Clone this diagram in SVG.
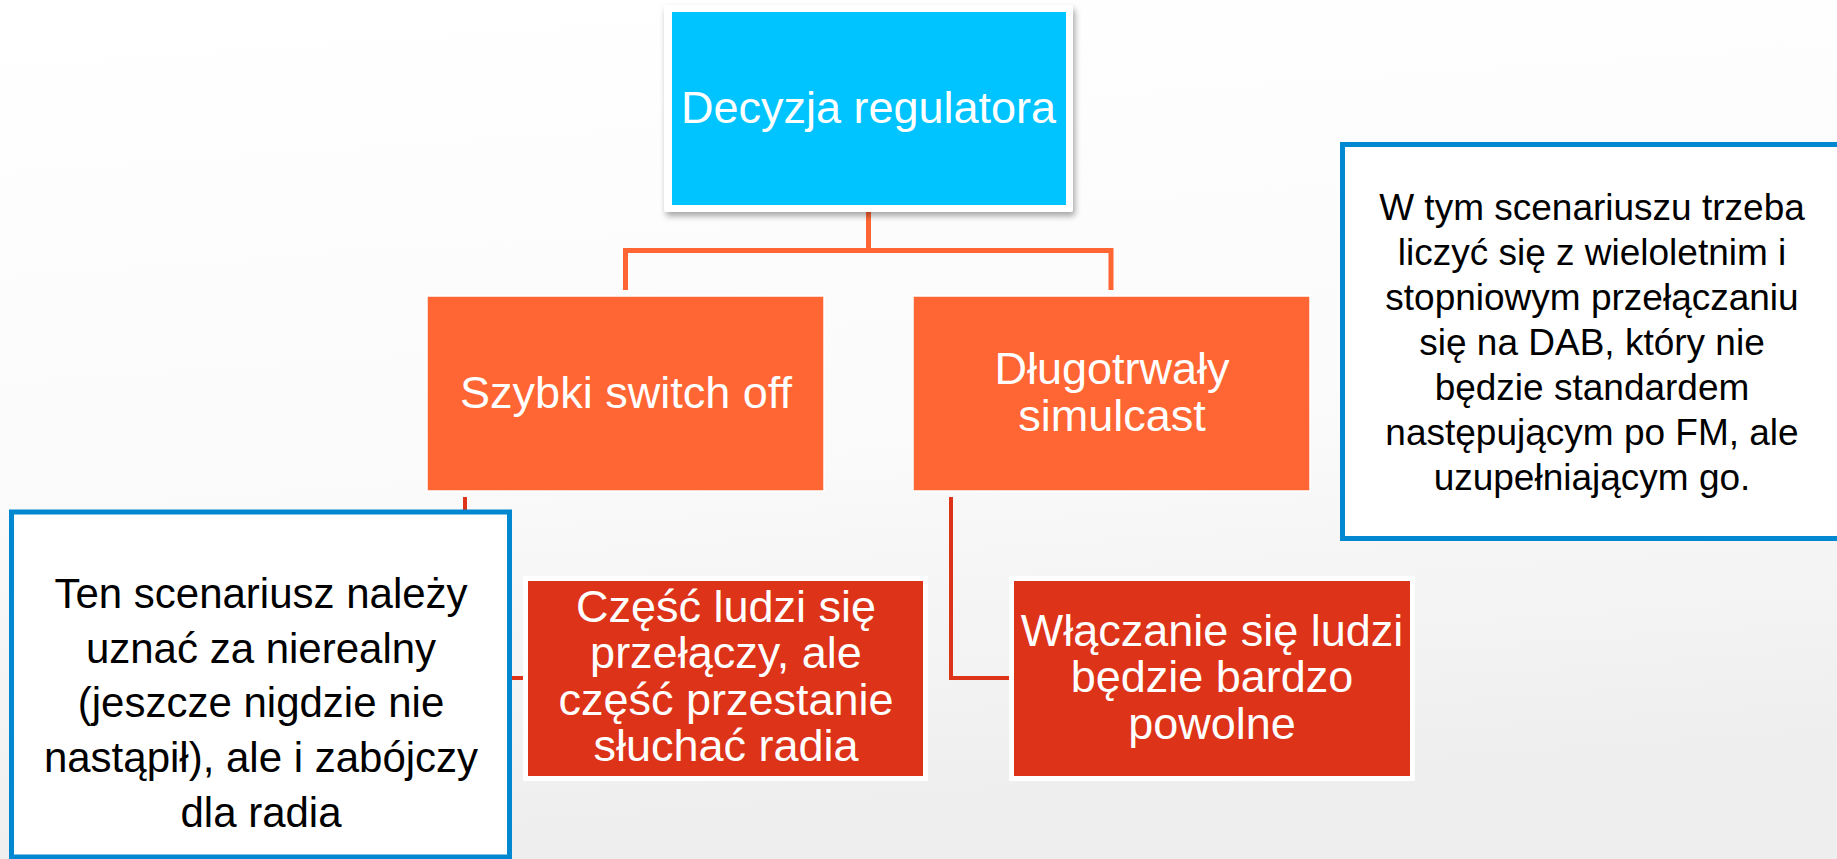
<svg xmlns="http://www.w3.org/2000/svg" width="1837" height="859" viewBox="0 0 1837 859">
  <defs>
    <linearGradient id="bg" x1="0" y1="0" x2="0.15" y2="1">
      <stop offset="0" stop-color="#FFFFFF"/>
      <stop offset="0.55" stop-color="#FBFBFB"/>
      <stop offset="1" stop-color="#EEEEEE"/>
    </linearGradient>
    <filter id="shadow" x="-10%" y="-10%" width="120%" height="125%">
      <feDropShadow dx="2" dy="4" stdDeviation="3" flood-color="#000000" flood-opacity="0.35"/>
    </filter>
    <style>
      .txt { font-family: "Liberation Sans", Arial, sans-serif; text-anchor: middle; }
      .white { fill: #FFFFFF; }
      .black { fill: #000000; }
      .orange { fill: #FF6633; stroke: #FFFFFF; stroke-width: 1.5; }
      .red { fill: #DD3318; stroke: #FFFFFF; stroke-width: 5; }
      .callout { fill: #FFFFFF; stroke: #0288D1; stroke-width: 5; }
      .conn1 { fill: none; stroke: #FF6633; stroke-width: 5; }
      .conn2 { fill: none; stroke: #DD3318; stroke-width: 4; }
    </style>
  </defs>
  <rect x="0" y="0" width="1837" height="859" fill="url(#bg)"/>

  <g id="connectors">
    <path class="conn1" d="M868.5 212 V250.5 M625.5 290 V250.5 H1111 V290"/>
    <path class="conn2" d="M465 497 V678 H523"/>
    <path class="conn2" d="M951 497 V678 H1009"/>
  </g>

  <g id="node-decyzja">
    <rect x="664" y="5" width="409" height="207" rx="3" fill="#FFFFFF" filter="url(#shadow)"/>
    <rect x="672" y="12" width="394" height="193" fill="#00C4FF"/>
    <text class="txt white" x="868.5" y="123" font-size="45">Decyzja regulatora</text>
  </g>

  <g id="node-szybki">
    <rect class="orange" x="427" y="296" width="397" height="195"/>
    <text class="txt white" x="626" y="408" font-size="45">Szybki switch off</text>
  </g>

  <g id="node-dlugotrwaly">
    <rect class="orange" x="913" y="296" width="397" height="195"/>
    <text class="txt white" font-size="45"><tspan x="1112" y="384">Długotrwały</tspan><tspan x="1112" y="431">simulcast</tspan></text>
  </g>

  <g id="node-czesc">
    <rect class="red" x="525.5" y="578.5" width="400" height="200"/>
    <text class="txt white" font-size="45"><tspan x="726" y="622">Część ludzi się</tspan><tspan x="726" y="668">przełączy, ale</tspan><tspan x="726" y="715">część przestanie</tspan><tspan x="726" y="761">słuchać radia</tspan></text>
  </g>

  <g id="node-wlaczanie">
    <rect class="red" x="1011.5" y="578.5" width="401" height="200"/>
    <text class="txt white" font-size="45"><tspan x="1212" y="646">Włączanie się ludzi</tspan><tspan x="1212" y="692">będzie bardzo</tspan><tspan x="1212" y="739">powolne</tspan></text>
  </g>

  <g id="callout-left">
    <rect class="callout" x="11.5" y="512" width="498" height="345"/>
    <text class="txt black" font-size="42"><tspan x="261" y="608">Ten scenariusz należy</tspan><tspan x="261" y="663">uznać za nierealny</tspan><tspan x="261" y="717">(jeszcze nigdzie nie</tspan><tspan x="261" y="772">nastąpił), ale i zabójczy</tspan><tspan x="261" y="827">dla radia</tspan></text>
  </g>

  <g id="callout-right">
    <rect class="callout" x="1342.5" y="144.5" width="510" height="394"/>
    <text class="txt black" font-size="37"><tspan x="1592" y="220">W tym scenariuszu trzeba</tspan><tspan x="1592" y="265">liczyć się z wieloletnim i</tspan><tspan x="1592" y="310">stopniowym przełączaniu</tspan><tspan x="1592" y="355">się na DAB, który nie</tspan><tspan x="1592" y="400">będzie standardem</tspan><tspan x="1592" y="445">następującym po FM, ale</tspan><tspan x="1592" y="490">uzupełniającym go.</tspan></text>
  </g>
</svg>
